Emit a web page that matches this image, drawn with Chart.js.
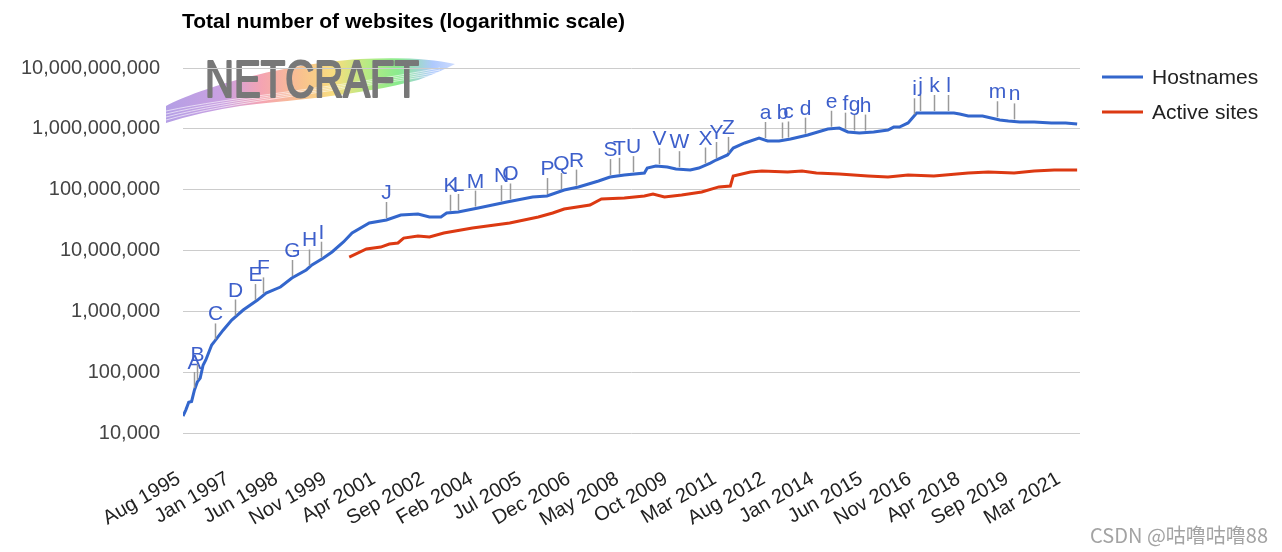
<!DOCTYPE html>
<html><head><meta charset="utf-8">
<script src="https://cdn.jsdelivr.net/npm/chart.js@4.4.1/dist/chart.umd.min.js"></script>
<style>html,body{margin:0;padding:0;background:#fff;}#wrap{width:1282px;height:552px;position:relative;}</style>
</head><body><div id="wrap"><canvas id="c" width="1282" height="552"></canvas></div>
<script>
const chartTitle = 'Total number of websites (logarithmic scale)';
const seriesNames = ['Hostnames', 'Active sites'];
const hostDates = ['1995-08','1995-09','1995-10','1995-11','1995-12','1996-01','1996-02','1996-03','1996-04','1996-06','1996-07','1996-10','1997-01','1997-05','1997-10','1998-01','1998-06','1998-10','1999-03','1999-05','1999-09','1999-12','2000-04','2000-07','2001-01','2001-07','2001-12','2002-06','2002-10','2003-02','2003-04','2003-08','2004-03','2005-01','2005-10','2006-03','2006-09','2007-02','2007-09','2008-01','2008-06','2009-01','2009-02','2009-05','2009-09','2009-12','2010-05','2010-08','2010-12','2011-02','2011-06','2011-08','2011-12','2012-05','2012-08','2012-12','2013-04','2013-10','2014-05','2014-09','2014-12','2015-04','2015-09','2016-02','2016-04','2016-06','2016-09','2016-12','2017-04','2018-01','2018-03','2018-06','2018-11','2019-05','2019-08','2019-12','2020-05','2020-11','2021-04','2021-08'];
const hostValues = [19000,24000,32000,33000,51000,69000,80000,130000,160000,280000,320000,490000,720000,1050000,1530000,2000000,2510000,3530000,4780000,5780000,7540000,9450000,13800000,19400000,28300000,31700000,38300000,39800000,35500000,35500000,41300000,42900000,49900000,62600000,75700000,78600000,98700000,110600000,138800000,161000000,174000000,188000000,227000000,245000000,236000000,219000000,210000000,227000000,274000000,307000000,372000000,484000000,585000000,706000000,631000000,631000000,681000000,792000000,994000000,1030000000,888000000,854000000,888000000,957000000,1070000000,1070000000,1250000000,1820000000,1820000000,1820000000,1750000000,1630000000,1630000000,1400000000,1350000000,1300000000,1300000000,1250000000,1250000000,1200000000];
const activeDates = ['2000-06','2000-12','2001-05','2001-08','2001-11','2002-01','2002-06','2002-10','2003-03','2004-01','2005-02','2005-12','2006-05','2006-09','2007-06','2007-10','2008-06','2009-01','2009-04','2009-08','2010-02','2010-09','2011-03','2011-07','2011-08','2012-02','2012-06','2013-03','2013-08','2014-01','2014-09','2015-07','2016-02','2016-09','2017-06','2018-06','2019-01','2019-10','2020-05','2020-12','2021-08'];
const activeValues = [7800000,10600000,11400000,12800000,13300000,16000000,17300000,16700000,19400000,23400000,28300000,35500000,41300000,48100000,56000000,70200000,72900000,78600000,84800000,75700000,81700000,91600000,111000000,115000000,168000000,195000000,203000000,195000000,203000000,188000000,181000000,168000000,161000000,174000000,168000000,188000000,195000000,188000000,203000000,210000000,210000000];
const tickLabels = ['Aug 1995','Jan 1997','Jun 1998','Nov 1999','Apr 2001','Sep 2002','Feb 2004','Jul 2005','Dec 2006','May 2008','Oct 2009','Mar 2011','Aug 2012','Jan 2014','Jun 2015','Nov 2016','Apr 2018','Sep 2019','Mar 2021'];
const tickDates = ['1995-08','1997-01','1998-06','1999-11','2001-04','2002-09','2004-02','2005-07','2006-12','2008-05','2009-10','2011-03','2012-08','2014-01','2015-06','2016-11','2018-04','2019-09','2021-03'];
const yTicks = [1e4,1e5,1e6,1e7,1e8,1e9,1e10];
const noteLetters = ['A','B','C','D','E','F','G','H','I','J','K','L','M','N','O','P','Q','R','S','T','U','V','W','X','Y','Z','a','b','c','d','e','f','g','h','i','j','k','l','m','n'];
const noteDates = ['1995-12','1996-01','1996-07','1997-02','1997-09','1997-12','1998-10','1999-04','1999-08','2001-07','2003-05','2003-08','2004-02','2004-11','2005-02','2006-03','2006-08','2007-01','2008-01','2008-04','2008-09','2009-06','2010-01','2010-10','2011-02','2011-06','2012-07','2013-01','2013-03','2013-09','2014-06','2014-11','2015-02','2015-06','2016-11','2017-01','2017-06','2017-11','2019-04','2019-10'];
const firstDate = '1995-08';
const lastDate = '2021-09';
const watermark = 'CSDN @咕噜咕噜88';
const logoText = 'NETCRAFT';

const FONT = "'Liberation Sans', Arial, sans-serif";
const toM = s => { const p = s.split('-').map(Number); const q = firstDate.split('-').map(Number); return (p[0]-q[0])*12 + (p[1]-q[1]); };
const colors = ['#3366cc', '#dc3912'];

const hostData = hostDates.map((d,i)=>({x:toM(d), y:hostValues[i]}));
const activeData = activeDates.map((d,i)=>({x:toM(d), y:activeValues[i]}));

function hostAt(m){
  for (let i=0;i<hostData.length-1;i++){
    const a=hostData[i], b=hostData[i+1];
    if (m>=a.x && m<=b.x){
      const t=(m-a.x)/(b.x-a.x||1);
      return Math.pow(10, Math.log10(a.y)+(Math.log10(b.y)-Math.log10(a.y))*t);
    }
  }
  return hostData[hostData.length-1].y;
}

const decor = {
  id:'decor',
  beforeDraw(chart){
    const ctx = chart.ctx;
    ctx.save();
    ctx.fillStyle='#ffffff'; ctx.fillRect(0,0,chart.width,chart.height);
    // logo brush
    const g = ctx.createLinearGradient(166,0,456,0);
    g.addColorStop(0,'#b09ae4'); g.addColorStop(0.2,'#c89ce0'); g.addColorStop(0.33,'#f49fae');
    g.addColorStop(0.47,'#f8bf88'); g.addColorStop(0.58,'#f7dc78'); g.addColorStop(0.7,'#b0ea7e');
    g.addColorStop(0.8,'#84ea88'); g.addColorStop(0.92,'#aac6fd'); g.addColorStop(1,'#cbdaff');
    ctx.globalAlpha=0.95;
    ctx.fillStyle=g;
    ctx.beginPath();
    ctx.moveTo(166,106);
    ctx.bezierCurveTo(200,88,280,64,360,59);
    ctx.quadraticCurveTo(420,56,455,64);
    ctx.quadraticCurveTo(440,72,418,80);
    ctx.bezierCurveTo(360,96,280,101,240,106);
    ctx.quadraticCurveTo(200,112,166,123);
    ctx.closePath();
    ctx.fill();
    ctx.globalAlpha=0.6;
    ctx.strokeStyle='#ffffff'; ctx.lineWidth=1;
    for (let k=0;k<4;k++){
      ctx.beginPath();
      ctx.moveTo(166,111+k*3);
      ctx.bezierCurveTo(230,97+k*1.5,330,89+k*1.2,440,68+k*2);
      ctx.stroke();
    }
    ctx.globalAlpha=1;
    ctx.font='50px '+FONT;
    const w = ctx.measureText(logoText).width;
    ctx.translate(205,97);
    ctx.scale(214/w,1.02);
    ctx.fillStyle='#787878';
    ctx.strokeStyle='#787878';
    ctx.lineWidth=2.2;
    ctx.lineJoin='round';
    ctx.textBaseline='alphabetic';
    ctx.fillText(logoText,0,0);
    ctx.strokeText(logoText,0,0);
    ctx.restore();
  },
  afterDraw(chart){
    const ctx = chart.ctx;
    const xs = chart.scales.x, ys = chart.scales.y;
    ctx.save();
    // title
    ctx.fillStyle='#000'; ctx.font='bold 21px '+FONT; ctx.textBaseline='middle'; ctx.textAlign='left';
    ctx.fillText(chartTitle,182,22);
    // legend
    chart.data.datasets.forEach((ds,i)=>{
      const y = 77 + i*35;
      ctx.strokeStyle=ds.borderColor; ctx.lineWidth=3;
      ctx.beginPath(); ctx.moveTo(1102,y); ctx.lineTo(1143,y); ctx.stroke();
      ctx.fillStyle='#222'; ctx.font='21px '+FONT; ctx.textBaseline='middle';
      ctx.fillText(ds.label,1152,y+1);
    });
    // annotations
    noteLetters.forEach((L,i)=>{
      const m = toM(noteDates[i]);
      const x = Math.round(xs.getPixelForValue(m))+0.5;
      const y = ys.getPixelForValue(hostAt(m));
      ctx.strokeStyle='#9a9a9a'; ctx.lineWidth=1.5;
      ctx.beginPath(); ctx.moveTo(x,y-2); ctx.lineTo(x,y-18); ctx.stroke();
      ctx.fillStyle='#3d5fcb'; ctx.font='21px '+FONT; ctx.textAlign='center'; ctx.textBaseline='alphabetic';
      ctx.fillText(L,x,y-21);
    });
    // watermark
    ctx.textAlign='right'; ctx.textBaseline='middle';
    ctx.font="20px 'Noto Sans CJK SC', sans-serif";
    ctx.fillStyle='#a3a3a3';
    ctx.fillText(watermark,1268,535);
    ctx.restore();
  }
};

new Chart(document.getElementById('c').getContext('2d'), {
  type:'line',
  data:{datasets:[
    {label:seriesNames[0], data:hostData, borderColor:colors[0], backgroundColor:colors[0], borderWidth:3, pointRadius:0, tension:0, fill:false},
    {label:seriesNames[1], data:activeData, borderColor:colors[1], backgroundColor:colors[1], borderWidth:3, pointRadius:0, tension:0, fill:false}
  ]},
  options:{
    responsive:false, animation:false, devicePixelRatio:1,
    layout:{padding:{left:0,right:202,top:68,bottom:0}},
    plugins:{legend:{display:false}, title:{display:false}, tooltip:{enabled:false}},
    scales:{
      x:{type:'linear', min:toM(firstDate), max:toM(lastDate),
        grid:{display:false, drawTicks:false}, border:{display:false},
        afterBuildTicks:s=>{ s.ticks = tickDates.map(d=>({value:toM(d)})); },
        afterFit:s=>{ s.height = 119; },
        ticks:{autoSkip:false, minRotation:30, maxRotation:30, padding:34, labelOffset:-4, color:'#222',
          font:{family:FONT, size:20},
          callback:(v)=>{ const i = tickDates.findIndex(d=>toM(d)===v); return i>=0 ? tickLabels[i] : ''; }}
      },
      y:{type:'logarithmic', min:yTicks[0], max:yTicks[yTicks.length-1],
        grid:{color:'#cccccc', lineWidth:1, drawTicks:false}, border:{display:false},
        afterBuildTicks:s=>{ s.ticks = yTicks.map(v=>({value:v, major:true})); },
        afterFit:s=>{ s.width = 183; },
        ticks:{padding:23, color:'#444', font:{family:FONT, size:20},
          callback:(v)=>Number(v).toLocaleString('en-US')}
      }
    }
  },
  plugins:[decor]
});
</script></body></html>
